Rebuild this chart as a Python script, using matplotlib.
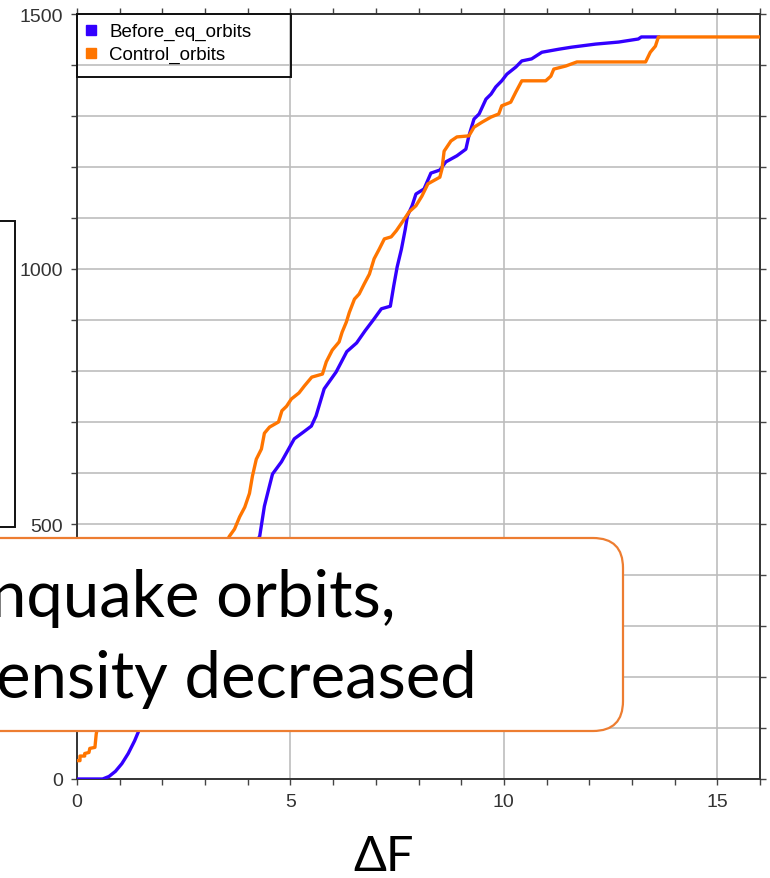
import numpy as np
import matplotlib.pyplot as plt
from matplotlib.lines import Line2D
from matplotlib.patches import Rectangle, FancyBboxPatch

# cumulative counts
before_x = [0, 0.6, 0.75, 0.9, 1.05, 1.2, 1.35, 1.45, 1.8, 2.3, 2.8, 3.3, 3.8, 4.2,
            4.28, 4.39, 4.51, 4.58, 4.79, 4.93, 5.09, 5.3, 5.49, 5.6, 5.79, 6.07,
            6.32, 6.55, 6.75, 6.94, 7.13, 7.34, 7.42, 7.5, 7.6, 7.69, 7.74, 7.85,
            7.94, 8.13, 8.29, 8.5, 8.64, 8.9, 9.11, 9.18, 9.3, 9.42, 9.58, 9.7,
            9.81, 9.95, 10.07, 10.28, 10.42, 10.65, 10.89, 11.29, 11.59, 12.15,
            12.69, 13.15, 13.22, 13.62]
before_y = [0, 0, 5, 15, 30, 50, 75, 95, 150, 230, 300, 360, 420, 465,
            476, 535, 575, 598, 622, 643, 667, 680, 692, 712, 765, 798,
            838, 855, 879, 900, 922, 927, 967, 1004, 1039, 1078, 1104, 1124,
            1147, 1157, 1188, 1194, 1210, 1222, 1235, 1261, 1294, 1304, 1333, 1343,
            1357, 1369, 1382, 1396, 1408, 1412, 1425, 1431, 1435, 1441,
            1445, 1451, 1455, 1455]

control_x = [0, 0.07, 0.07, 0.18, 0.18, 0.28, 0.3, 0.42, 0.45, 0.5, 0.8, 1.3, 1.9,
             2.5, 3.0, 3.4, 3.57, 3.69, 3.81, 3.93, 4.04, 4.11, 4.2, 4.32, 4.39,
             4.51, 4.72, 4.8, 4.91, 5.02, 5.2, 5.33, 5.5, 5.75, 5.84, 5.98, 6.14,
             6.21, 6.31, 6.38, 6.5, 6.61, 6.73, 6.85, 6.96, 7.08, 7.2, 7.36, 7.48,
             7.62, 7.78, 7.94, 8.08, 8.22, 8.5, 8.55, 8.6, 8.76, 8.9, 9.18, 9.3,
             9.49, 9.7, 9.88, 9.95, 10.16, 10.28, 10.42, 10.98, 11.1, 11.17, 11.45,
             11.71, 13.32, 13.43, 13.55, 13.62, 16]
control_y = [36, 36, 45, 45, 50, 52, 60, 62, 88, 110, 160, 220, 290,
             350, 400, 450, 476, 490, 514, 533, 560, 594, 627, 647, 678,
             690, 700, 722, 731, 745, 757, 771, 788, 794, 818, 841, 857,
             876, 896, 915, 941, 951, 971, 990, 1020, 1039, 1059, 1063, 1075,
             1092, 1112, 1124, 1143, 1167, 1180, 1196, 1231, 1251, 1259, 1261, 1278,
             1288, 1298, 1304, 1320, 1327, 1347, 1369, 1369, 1378, 1392, 1398,
             1406, 1406, 1425, 1437, 1455, 1455]

labels = ['Before_eq_orbits', 'Control_orbits']
colors = ['#3300ff', '#ff7500']

W, H = 770, 879
fig = plt.figure(figsize=(W / 100, H / 100), dpi=100)
ax = fig.add_axes([77 / W, 99 / H, 683 / W, 765 / H])

ax.plot(before_x, before_y, color=colors[0], lw=2.4, zorder=3)
ax.plot(control_x, control_y, color=colors[1], lw=2.4, zorder=4)

ax.set_xlim(0, 16)
ax.set_ylim(0, 1500)
ax.set_xticks([0, 5, 10, 15])
ax.set_xticks(np.arange(0, 17, 1), minor=True)
ax.set_yticks([0, 500, 1000, 1500])
ax.set_yticks(np.arange(0, 1501, 100), minor=True)
ax.grid(True, axis='x', which='major', color='#bdbdbd', lw=1.2)
ax.grid(True, axis='y', which='both', color='#bdbdbd', lw=1.2)
ax.set_axisbelow(True)
ax.tick_params(which='both', direction='out', length=4, width=1, color='#444',
               top=True, right=True, labelsize=14, labelcolor='#333')
ax.tick_params(axis='y', which='both', pad=6)
ax.tick_params(axis='y', which='both', right=True, length=4)
ax.tick_params(axis='x', which='both', pad=6)
for s in ax.spines.values():
    s.set_color('#333')
    s.set_linewidth(1.4)
for t in ax.get_xticklabels() + ax.get_yticklabels():
    t.set_fontfamily('Liberation Sans')

ax.set_xlabel('ΔF', fontsize=35, family='Lato', va='center')
ax.xaxis.set_label_coords((384 - 77) / 683, -(857 - 780) / 765)

# legend with square markers and a square frame
handles = [Line2D([], [], ls='', marker='s', ms=7, color=c) for c in colors]
leg = ax.legend(handles, labels, loc='upper left', bbox_to_anchor=(0.006, 0.993),
                frameon=False, borderaxespad=0, borderpad=0.2, handlelength=0.7,
                handletextpad=0.6, labelspacing=0.3,
                prop={'family': 'Liberation Sans', 'size': 13.5})
ax.add_patch(Rectangle((0, 1 - 63 / 765), 214 / 683, 63 / 765, transform=ax.transAxes,
                       fill=False, ec='#111', lw=1.4, zorder=5, clip_on=False))

# overlay in pixel units for the slide elements
ov = fig.add_axes([0, 0, 1, 1], zorder=10)
ov.set_xlim(0, W)
ov.set_ylim(H, 0)
ov.axis('off')
ov.patch.set_alpha(0)

ov.add_patch(Rectangle((-20, 222), 35, 306, fill=False, ec='#111', lw=1.4))
ov.add_patch(FancyBboxPatch((-200, 539), 823, 193,
                            boxstyle='round,pad=0,rounding_size=30',
                            fc='white', ec='#ED7D31', lw=1.6))
ov.text(395, 617, 'nquake orbits,', ha='right', va='baseline', fontsize=47,
        family='Lato', color='black')
ov.text(477, 698, 'ensity decreased', ha='right', va='baseline', fontsize=47,
        family='Lato', color='black')

fig.savefig('out.png', dpi=100)
